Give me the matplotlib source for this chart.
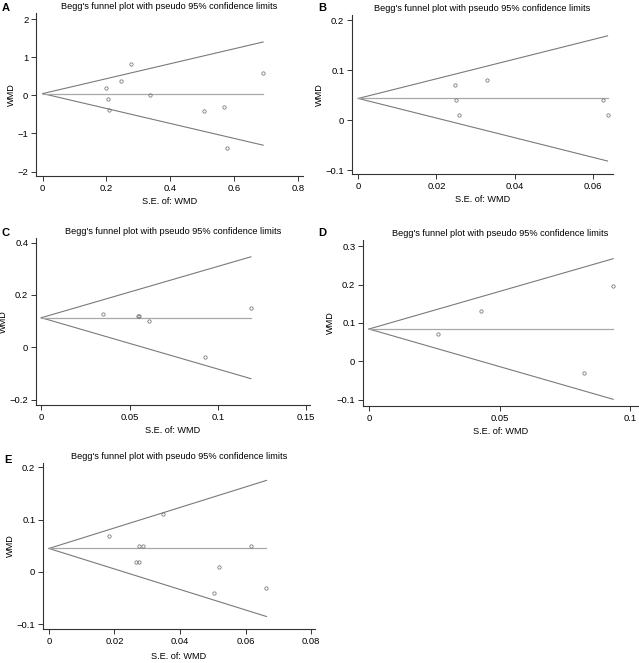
import matplotlib
matplotlib.use("Agg")
import matplotlib.pyplot as plt

plt.rcParams['font.family'] = ['Liberation Sans', 'DejaVu Sans']

# Panel A
se_a = [0.199, 0.206, 0.208, 0.247, 0.276, 0.336, 0.507, 0.569, 0.577, 0.691]
wmd_a = [0.20, -0.10, -0.39, 0.37, 0.82, 0.00, -0.42, -0.32, -1.39, 0.58]
pooled_a = 0.045

# Panel B
se_b = [0.0248, 0.0250, 0.0257, 0.0329, 0.0627, 0.0638]
wmd_b = [0.070, 0.040, 0.010, 0.080, 0.040, 0.010]
pooled_b = 0.044

# Panel C
se_c = [0.0348, 0.0546, 0.0555, 0.0612, 0.0928, 0.1188]
wmd_c = [0.129, 0.120, 0.120, 0.099, -0.038, 0.150]
pooled_c = 0.113

# Panel D
se_d = [0.0265, 0.0427, 0.0822, 0.0935]
wmd_d = [0.071, 0.131, -0.031, 0.196]
pooled_d = 0.084

# Panel E
se_e = [0.0184, 0.0266, 0.0276, 0.0276, 0.0286, 0.0349, 0.0505, 0.0519, 0.0618, 0.0664]
wmd_e = [0.069, 0.020, 0.020, 0.050, 0.050, 0.110, -0.040, 0.010, 0.050, -0.031]
pooled_e = 0.045

panels = [
    ("A", se_a, wmd_a, pooled_a, [0, 0.2, 0.4, 0.6, 0.8], ["0", "0.2", "0.4", "0.6", "0.8"],
     [-2, -1, 0, 1, 2], ["\u22122", "\u22121", "0", "1", "2"], (-0.021, 0.816), (-2.118, 2.16)),
    ("B", se_b, wmd_b, pooled_b, [0, 0.02, 0.04, 0.06], ["0", "0.02", "0.04", "0.06"],
     [-0.1, 0, 0.1, 0.2], ["\u22120.1", "0", "0.1", "0.2"], (-0.0016, 0.0652), (-0.107, 0.2107)),
    ("C", se_c, wmd_c, pooled_c, [0, 0.05, 0.1, 0.15], ["0", "0.05", "0.1", "0.15"],
     [-0.2, 0, 0.2, 0.4], ["\u22120.2", "0", "0.2", "0.4"], (-0.003, 0.1523), (-0.2205, 0.4177)),
    ("D", se_d, wmd_d, pooled_d, [0, 0.05, 0.1], ["0", "0.05", "0.1"],
     [-0.1, 0, 0.1, 0.2, 0.3], ["\u22120.1", "0", "0.1", "0.2", "0.3"], (-0.0023, 0.103), (-0.1167, 0.316)),
    ("E", se_e, wmd_e, pooled_e, [0, 0.02, 0.04, 0.06, 0.08], ["0", "0.02", "0.04", "0.06", "0.08"],
     [-0.1, 0, 0.1, 0.2], ["\u22120.1", "0", "0.1", "0.2"], (-0.0018, 0.0812), (-0.109, 0.2084)),
]

W, H = 639, 663
# axes boxes in pixels: left, right, top, bottom
boxes = [(36, 303, 13, 176), (352, 613, 15, 174), (36, 310, 238, 405),
         (363, 638, 240, 406), (43, 315, 463, 629)]
letters_pos = [(2, 8), (318, 8), (2, 233), (318, 233), (4, 460)]
xlabel_pads = [3, 3, 3, 3, 4.5]

fig = plt.figure(figsize=(W / 100, H / 100), dpi=100)

for i, (letter, se, wmd, pooled, xt, xtl, yt, ytl, xl, yl) in enumerate(panels):
    l, r, t, b = boxes[i]
    ax = fig.add_axes([l / W, 1 - b / H, (r - l) / W, (b - t) / H])
    se_max = max(se)
    # pseudo 95% confidence limits
    ax.plot([0, se_max], [pooled, pooled + 1.96 * se_max], color='#7a7a7a', lw=0.8)
    ax.plot([0, se_max], [pooled, pooled - 1.96 * se_max], color='#7a7a7a', lw=0.8)
    ax.plot([0, se_max], [pooled, pooled], color='#a8a8a8', lw=0.9)
    ax.plot(se, wmd, linestyle='None', marker='o', markersize=2.4, markerfacecolor='none',
            markeredgecolor='#707070', markeredgewidth=0.55)
    ax.set_xlim(*xl)
    ax.set_ylim(*yl)
    ax.set_xticks(xt)
    ax.set_xticklabels(xtl)
    ax.set_yticks(yt)
    ax.set_yticklabels(ytl)
    for s in ['top', 'right']:
        ax.spines[s].set_visible(False)
    for s in ['left', 'bottom']:
        ax.spines[s].set_linewidth(0.8)
        ax.spines[s].set_color('#333333')
    ax.tick_params(direction='out', length=3.5, width=0.7, labelsize=6.8, pad=2, color='#333333')
    ax.set_xlabel('S.E. of: WMD', fontsize=6.6, labelpad=xlabel_pads[i])
    ax.set_ylabel('WMD', fontsize=6.6, labelpad=1)
    ax.set_title("Begg's funnel plot with pseudo 95% confidence limits", fontsize=6.6, pad=3)
    lx, ly = letters_pos[i]
    fig.text(lx / W, 1 - ly / H, letter, fontsize=8, fontweight='bold', va='center', ha='left')

fig.savefig('out.png', dpi=100)
